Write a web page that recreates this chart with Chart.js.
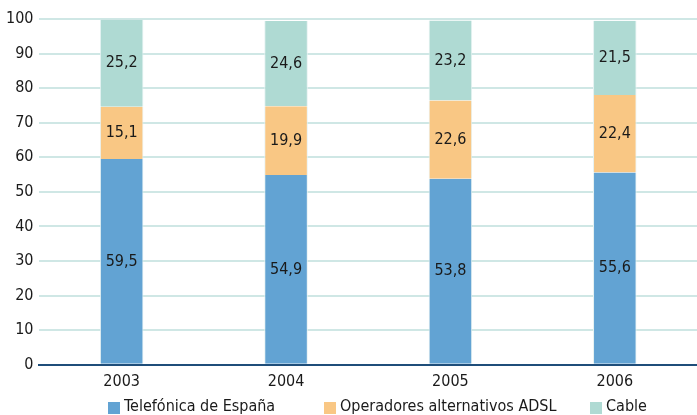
<!DOCTYPE html>
<html><head><meta charset="utf-8">
<script src="https://cdn.jsdelivr.net/npm/chart.js@4/dist/chart.umd.min.js"></script>
<style>html,body{margin:0;padding:0;background:#fff}#wrap{width:697px;height:415px}</style>
</head><body><div id="wrap"><canvas id="c" width="697" height="415"></canvas></div>
<script>
const categories = ["2003", "2004", "2005", "2006"];
const telefonica = [59.5, 54.9, 53.8, 55.6];
const operadores = [15.1, 19.9, 22.6, 22.4];
const cable = [25.2, 24.6, 23.2, 21.5];
const seriesNames = ["Telefónica de España", "Operadores alternativos ADSL", "Cable"];
const yTicks = [0, 10, 20, 30, 40, 50, 60, 70, 80, 90, 100];

const FONT = "'Liberation Sans Narrow', 'DejaVu Sans Condensed', sans-serif";

const labelPlugin = {
  id: 'segLabels',
  afterDatasetsDraw(chart) {
    const ctx = chart.ctx;
    ctx.save();
    ctx.font = "16px " + FONT;
    ctx.fillStyle = "#1a1a1a";
    ctx.textAlign = "center";
    ctx.textBaseline = "middle";
    chart.data.datasets.forEach((ds, i) => {
      const meta = chart.getDatasetMeta(i);
      meta.data.forEach((bar, j) => {
        const y = (bar.y + bar.base) / 2;
        ctx.fillText(ds.data[j].toFixed(1).replace('.', ','), bar.x, y);
      });
    });
    ctx.restore();
  }
};

// legend item start positions as fractions of canvas width
const legendStarts = [0.155, 0.465, 0.846];

const legendPlugin = {
  id: 'customLegend',
  afterDraw(chart) {
    const ctx = chart.ctx;
    ctx.save();
    ctx.font = "16px " + FONT;
    ctx.textBaseline = "middle";
    ctx.textAlign = "left";
    const box = 12, gapBox = 4;
    const y = chart.height - 8;
    chart.data.datasets.forEach((ds, i) => {
      const x = Math.round(legendStarts[i] * chart.width);
      ctx.fillStyle = ds.backgroundColor;
      ctx.fillRect(x, y - box / 2 + 1, box, box);
      ctx.fillStyle = "#1a1a1a";
      ctx.fillText(ds.label, x + box + gapBox, y);
    });
    ctx.restore();
  }
};

new Chart(document.getElementById('c'), {
  type: 'bar',
  data: {
    labels: categories,
    datasets: [
      {label: seriesNames[0], data: telefonica, backgroundColor: '#62a3d3'},
      {label: seriesNames[1], data: operadores, backgroundColor: '#f9c784'},
      {label: seriesNames[2], data: cable, backgroundColor: '#afdad3'}
    ]
  },
  options: {
    responsive: false,
    animation: false,
    layout: {padding: {left: 0, right: 0, top: 19, bottom: 17}},
    datasets: {bar: {barPercentage: 0.265, categoryPercentage: 1, borderWidth: {left:1,right:1,top:0,bottom:0}, borderColor: '#e6f2f2'}},
    scales: {
      x: {
        stacked: true,
        grid: {display: false, drawTicks: false},
        border: {display: true, color: '#1f4e7a', width: 2},
        ticks: {color: '#1a1a1a', font: {family: FONT, size: 16}, padding: 7}
      },
      y: {
        stacked: true,
        min: 0, max: 100,
        afterBuildTicks(axis) { axis.ticks = yTicks.map(v => ({value: v})); },
        grid: {color: '#cfe7e5', lineWidth: 2, drawTicks: false},
        border: {display: false},
        ticks: {color: '#1a1a1a', font: {family: FONT, size: 16}, padding: 6}
      }
    },
    plugins: {
      legend: {display: false},
      tooltip: {enabled: false}
    }
  },
  plugins: [labelPlugin, legendPlugin]
});
</script>
</body></html>
